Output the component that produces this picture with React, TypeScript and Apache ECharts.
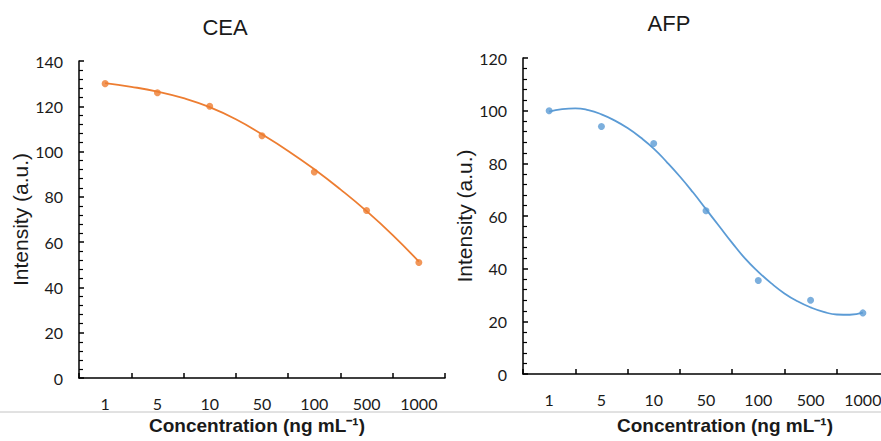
import React, { useEffect, useRef } from "react";
import * as echarts from "echarts";

const categories = ["1", "5", "10", "50", "100", "500", "1000"];
const ceaValues = [130, 126, 120, 107, 91, 74, 51];
const afpValues = [100, 94, 87.5, 62, 35.5, 28, 23.2];

const ceaFitX = [0, 0.5, 1, 1.5, 2, 2.5, 3, 3.5, 4, 4.5, 5, 5.5, 6];
const ceaFitY = [130.2, 128.6, 126.5, 123.6, 119.6, 114.3, 107.6, 100.3, 92.2, 83.3, 73.7, 63.1, 51.4];

const afpFitX = [0, 0.25, 0.5, 0.75, 1, 1.25, 1.5, 1.75, 2, 2.25, 2.5, 2.75, 3, 3.25, 3.5, 3.75, 4, 4.25, 4.5, 4.75, 5, 5.25, 5.5, 5.75, 6];
const afpFitY = [99.6, 100.6, 100.9, 100.2, 98.6, 96.3, 93.4, 89.8, 85.6, 80.5, 75.0, 69.0, 62.6, 56.2, 49.8, 43.8, 38.8, 34.4, 30.6, 27.6, 25.3, 23.6, 22.6, 22.5, 23.3];

const ceaYTicks = { min: 0, max: 140, interval: 20 };
const afpYTicks = { min: 0, max: 120, interval: 20 };

const ORANGE = "#ED7D31";
const BLUE = "#5B9BD5";
const TEXT = "#1a1a1a";

function catAxis(gridIndex: number) {
  return {
    type: "category",
    gridIndex,
    data: categories,
    boundaryGap: true,
    axisLine: { show: true, onZero: false, lineStyle: { color: "#000", width: 1.5 } },
    axisTick: { show: true, inside: true, length: 5, lineStyle: { color: "#000", width: 1.5 } },
    axisLabel: { fontSize: 16, color: TEXT, margin: 17, fontFamily: "Lato" },
    splitLine: { show: false },
  };
}

function fitAxis(gridIndex: number) {
  return {
    type: "value",
    gridIndex,
    min: -0.5,
    max: 6.5,
    show: false,
    axisLine: { onZero: false },
    splitLine: { show: false },
  };
}

function valAxis(gridIndex: number, t: { min: number; max: number; interval: number }) {
  return {
    type: "value",
    gridIndex,
    min: t.min,
    max: t.max,
    interval: t.interval,
    name: "Intensity (a.u.)",
    nameLocation: "middle",
    nameRotate: 90,
    nameGap: 46,
    nameTextStyle: { fontSize: 21, color: TEXT, fontFamily: "Liberation Sans" },
    axisLine: { show: true, onZero: false, lineStyle: { color: "#000", width: 1.5 } },
    axisTick: { show: true, inside: true, length: 5, lineStyle: { color: "#000", width: 1.5 } },
    minorTick: { show: true, splitNumber: 5, length: 4, lineStyle: { color: "#000", width: 1.2 } },
    axisLabel: { fontSize: 16, color: TEXT, margin: 16, fontFamily: "Lato" },
    splitLine: { show: false },
  };
}

export default function App() {
  const ref = useRef<HTMLDivElement>(null);
  useEffect(() => {
    if (!ref.current) return;
    const chart = echarts.init(ref.current, null, { renderer: "svg" });
    const option = {
      animation: false,
      backgroundColor: "#fff",
      grid: [
        { left: 79, top: 61, width: 366, height: 317 },
        { left: 523, top: 58, width: 366, height: 316 },
      ],
      xAxis: [catAxis(0), catAxis(1), fitAxis(0), fitAxis(1)],
      yAxis: [valAxis(0, ceaYTicks), valAxis(1, afpYTicks)],
      graphic: [
        {
          type: "line",
          shape: { x1: 0, y1: 412, x2: 881, y2: 412 },
          style: { stroke: "#c4c4c4", lineWidth: 1 },
        },
        {
          type: "text",
          x: 225,
          y: 27,
          style: { text: "CEA", fontSize: 22, fill: TEXT, fontFamily: "Liberation Sans", textAlign: "center", textVerticalAlign: "middle" },
        },
        {
          type: "text",
          x: 669,
          y: 23,
          style: { text: "AFP", fontSize: 22, fill: TEXT, fontFamily: "Liberation Sans", textAlign: "center", textVerticalAlign: "middle" },
        },
        {
          type: "text",
          x: 257,
          y: 425,
          style: { text: "Concentration (ng mL⁻¹)", fontSize: 19, fontWeight: "bold", fill: TEXT, fontFamily: "Liberation Sans", textAlign: "center", textVerticalAlign: "middle" },
        },
        {
          type: "text",
          x: 725,
          y: 425,
          style: { text: "Concentration (ng mL⁻¹)", fontSize: 19, fontWeight: "bold", fill: TEXT, fontFamily: "Liberation Sans", textAlign: "center", textVerticalAlign: "middle" },
        },
      ],
      series: [
        {
          name: "CEA fit",
          type: "line",
          xAxisIndex: 2,
          yAxisIndex: 0,
          smooth: true,
          showSymbol: false,
          lineStyle: { color: ORANGE, width: 1.8 },
          data: ceaFitX.map((x, i) => [x, ceaFitY[i]]),
          z: 2,
        },
        {
          name: "CEA",
          type: "scatter",
          xAxisIndex: 0,
          yAxisIndex: 0,
          symbolSize: 7,
          itemStyle: { color: ORANGE },
          data: ceaValues,
          z: 3,
        },
        {
          name: "AFP fit",
          type: "line",
          xAxisIndex: 3,
          yAxisIndex: 1,
          smooth: true,
          showSymbol: false,
          lineStyle: { color: BLUE, width: 1.8 },
          data: afpFitX.map((x, i) => [x, afpFitY[i]]),
          z: 2,
        },
        {
          name: "AFP",
          type: "scatter",
          xAxisIndex: 1,
          yAxisIndex: 1,
          symbolSize: 7,
          itemStyle: { color: BLUE },
          data: afpValues,
          z: 3,
        },
      ],
    };
    chart.setOption(option as any);
    return () => chart.dispose();
  }, []);
  return (
    <div
      ref={ref}
      style={{ position: "fixed", left: 0, top: 0, width: 900, height: 441, background: "#fff" }}
    />
  );
}
